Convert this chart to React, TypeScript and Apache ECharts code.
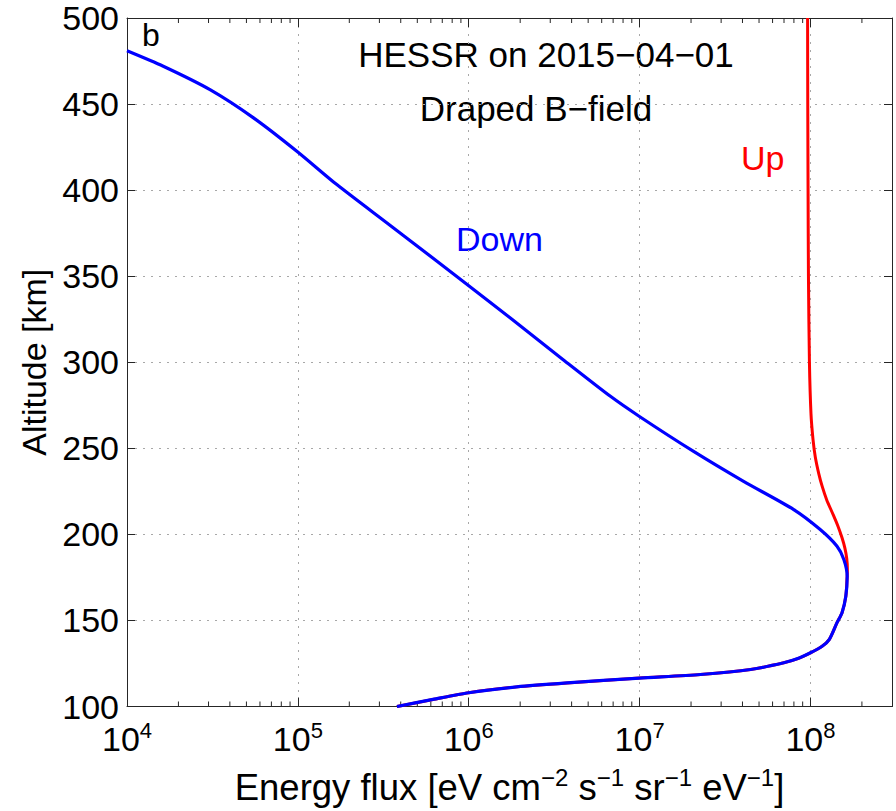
import React, { useEffect, useRef } from 'react';
import * as echarts from 'echarts';

// Downward energy flux profile (blue), altitude in km vs flux in eV cm^-2 s^-1 sr^-1 eV^-1
const downAltitude = [
  481, 472, 458.4, 442, 422.6, 403.2, 381, 358.7, 344.5, 325.5, 301.5, 280.2, 268.5,
  248.2, 230.8, 214.4, 202.8, 193.1, 185.3, 175.6, 164, 154.5, 148.7, 139, 135, 131.2, 128,
  125.4, 121.5, 118.6, 116.5, 113.7, 111.4, 108, 104.1, 100,
];
const downFlux = [
  1.0e4, 1.63e4, 3.06e4, 5.5e4, 9.86e4, 1.69e5, 3.31e5, 6.52e5, 1.0e6, 1.76e6, 3.57e6,
  6.75e6, 9.98e6, 2.07e7, 4.06e7, 7.98e7, 1.14e8, 1.43e8, 1.57e8, 1.64e8, 1.61e8, 1.53e8, 1.43e8,
  1.29e8, 1.17e8, 1.0e8, 8.51e7, 6.98e7, 4.46e7, 2.27e7, 1.0e7, 3.76e6, 1.91e6, 1.0e6, 6.17e5, 3.8e5,
];

// Upward energy flux profile (red); below ~176 km it coincides with the downward profile
const upAltitude = [500, 450, 400, 350, 300, 270, 255, 245, 235, 228, 220, 212, 205, 198, 192, 186, 180];
const upFlux = [
  9.62e7, 9.64e7, 9.68e7, 9.73e7, 9.86e7, 1.007e8, 1.035e8, 1.067e8, 1.12e8, 1.17e8, 1.245e8,
  1.35e8, 1.445e8, 1.53e8, 1.59e8, 1.63e8, 1.644e8,
];

// Axis definitions
const xMin = 1e4;
const xMax = 3e8;
const yMin = 100;
const yMax = 500;
const yStep = 50;
const minorTickFlux = [
  2e4, 3e4, 4e4, 5e4, 6e4, 7e4, 8e4, 9e4,
  2e5, 3e5, 4e5, 5e5, 6e5, 7e5, 8e5, 9e5,
  2e6, 3e6, 4e6, 5e6, 6e6, 7e6, 8e6, 9e6,
  2e7, 3e7, 4e7, 5e7, 6e7, 7e7, 8e7, 9e7,
  2e8,
];

const FONT = 'Liberation Sans';
const AXIS_COLOR = '#262626';

export default function App() {
  const ref = useRef<HTMLDivElement>(null);

  useEffect(() => {
    const chart = echarts.init(ref.current!, null, { renderer: 'svg' });

    const downData = downFlux.map((f, i) => [f, downAltitude[i]]);
    const lowerShared = downData.filter((p) => p[1] <= 175.6);
    const upData = upFlux.map((f, i) => [f, upAltitude[i]]).concat(lowerShared);

    const gridLine = { show: true, lineStyle: { color: '#a8a8a8', width: 1, type: [2, 6] as any } };
    const axisLine = { show: true, onZero: false, lineStyle: { color: AXIS_COLOR, width: 1 } };

    const supRich = {
      b: { fontSize: 34, lineHeight: 34, padding: [5, 0, 0, 0], fontFamily: FONT, color: '#000' },
      s: { fontSize: 22, lineHeight: 22, verticalAlign: 'top', fontFamily: FONT, color: '#000' },
    };
    const nameRich = {
      n: { fontSize: 36.5, lineHeight: 36, padding: [8, 0, 0, 0], fontFamily: FONT, color: '#000' },
      s: { fontSize: 24, lineHeight: 24, verticalAlign: 'top', fontFamily: FONT, color: '#000' },
    };

    const option: any = {
      animation: false,
      backgroundColor: '#fff',
      textStyle: { fontFamily: FONT, color: '#000' },
      grid: { left: 127, right: 4, top: 18, bottom: 104, containLabel: false },
      xAxis: [
        {
          type: 'log',
          logBase: 10,
          min: xMin,
          max: xMax,
          position: 'bottom',
          axisLine,
          axisTick: { show: true, inside: true, length: 9, lineStyle: { color: AXIS_COLOR } },
          splitLine: gridLine,
          axisLabel: {
            margin: 13,
            formatter: (v: number) => {
              const l = Math.log10(v);
              const r = Math.round(l);
              if (Math.abs(l - r) > 1e-6) return '';
              return `{b|10}{s|${r}}`;
            },
            rich: supRich,
          },
          name: '{n|Energy flux [eV cm}{s|−2}{n| s}{s|−1}{n| sr}{s|−1}{n| eV}{s|−1}{n|]}',
          nameLocation: 'middle',
          nameGap: 59,
          nameTextStyle: { rich: nameRich },
        },
        {
          type: 'log',
          logBase: 10,
          min: xMin,
          max: xMax,
          position: 'top',
          axisLine,
          axisTick: { show: true, inside: true, length: 9, lineStyle: { color: AXIS_COLOR } },
          splitLine: { show: false },
          axisLabel: { show: false },
        },
      ],
      yAxis: [
        {
          type: 'value',
          min: yMin,
          max: yMax,
          interval: yStep,
          position: 'left',
          axisLine,
          axisTick: { show: true, inside: true, length: 8, lineStyle: { color: AXIS_COLOR } },
          splitLine: gridLine,
          axisLabel: { fontSize: 34, margin: 8, color: '#000', fontFamily: FONT },
          name: 'Altitude [km]',
          nameLocation: 'middle',
          nameGap: 72,
          nameTextStyle: { fontSize: 34, color: '#000', fontFamily: FONT },
        },
        {
          type: 'value',
          min: yMin,
          max: yMax,
          interval: yStep,
          position: 'right',
          axisLine,
          axisTick: { show: true, inside: true, length: 8, lineStyle: { color: AXIS_COLOR } },
          splitLine: { show: false },
          axisLabel: { show: false },
        },
      ],
      series: [
        {
          type: 'custom',
          name: 'minorTicks',
          xAxisIndex: 0,
          yAxisIndex: 0,
          silent: true,
          clip: false,
          data: minorTickFlux.map((v) => [v, yMin]),
          encode: { x: 0, y: 1 },
          renderItem: (_params: any, api: any) => {
            const v = api.value(0);
            const b = api.coord([v, yMin]);
            const t = api.coord([v, yMax]);
            return {
              type: 'group',
              children: [
                { type: 'line', shape: { x1: b[0], y1: b[1], x2: b[0], y2: b[1] - 5 }, style: { stroke: AXIS_COLOR, lineWidth: 1 } },
                { type: 'line', shape: { x1: t[0], y1: t[1], x2: t[0], y2: t[1] + 5 }, style: { stroke: AXIS_COLOR, lineWidth: 1 } },
              ],
            };
          },
        },
        {
          type: 'line',
          name: 'Up',
          data: upData,
          showSymbol: false,
          symbol: 'none',
          smooth: 0.25,
          lineStyle: { color: '#ff0000', width: 3, join: 'round' },
          itemStyle: { color: '#ff0000' },
        },
        {
          type: 'line',
          name: 'Down',
          data: downData,
          showSymbol: false,
          symbol: 'none',
          smooth: 0.25,
          lineStyle: { color: '#0000ff', width: 3.2, join: 'round' },
          itemStyle: { color: '#0000ff' },
        },
      ],
      graphic: [
        { type: 'text', style: { text: 'b', x: 142, y: 35, fontSize: 32, fontFamily: FONT, fill: '#000', textAlign: 'left', textVerticalAlign: 'middle' } },
        { type: 'text', style: { text: 'HESSR on 2015−04−01', x: 546, y: 54, fontSize: 35, fontFamily: FONT, fill: '#000', textAlign: 'center', textVerticalAlign: 'middle' } },
        { type: 'text', style: { text: 'Draped B−field', x: 536, y: 108, fontSize: 35, fontFamily: FONT, fill: '#000', textAlign: 'center', textVerticalAlign: 'middle' } },
        { type: 'text', style: { text: 'Up', x: 741, y: 158, fontSize: 34, fontFamily: FONT, fill: '#ff0000', textAlign: 'left', textVerticalAlign: 'middle' } },
        { type: 'text', style: { text: 'Down', x: 456, y: 239, fontSize: 34, fontFamily: FONT, fill: '#0000ff', textAlign: 'left', textVerticalAlign: 'middle' } },
      ],
    };

    chart.setOption(option);
    return () => chart.dispose();
  }, []);

  return (
    <div
      ref={ref}
      style={{ position: 'fixed', left: 0, top: 0, width: 896, height: 811, background: '#fff' }}
    />
  );
}
